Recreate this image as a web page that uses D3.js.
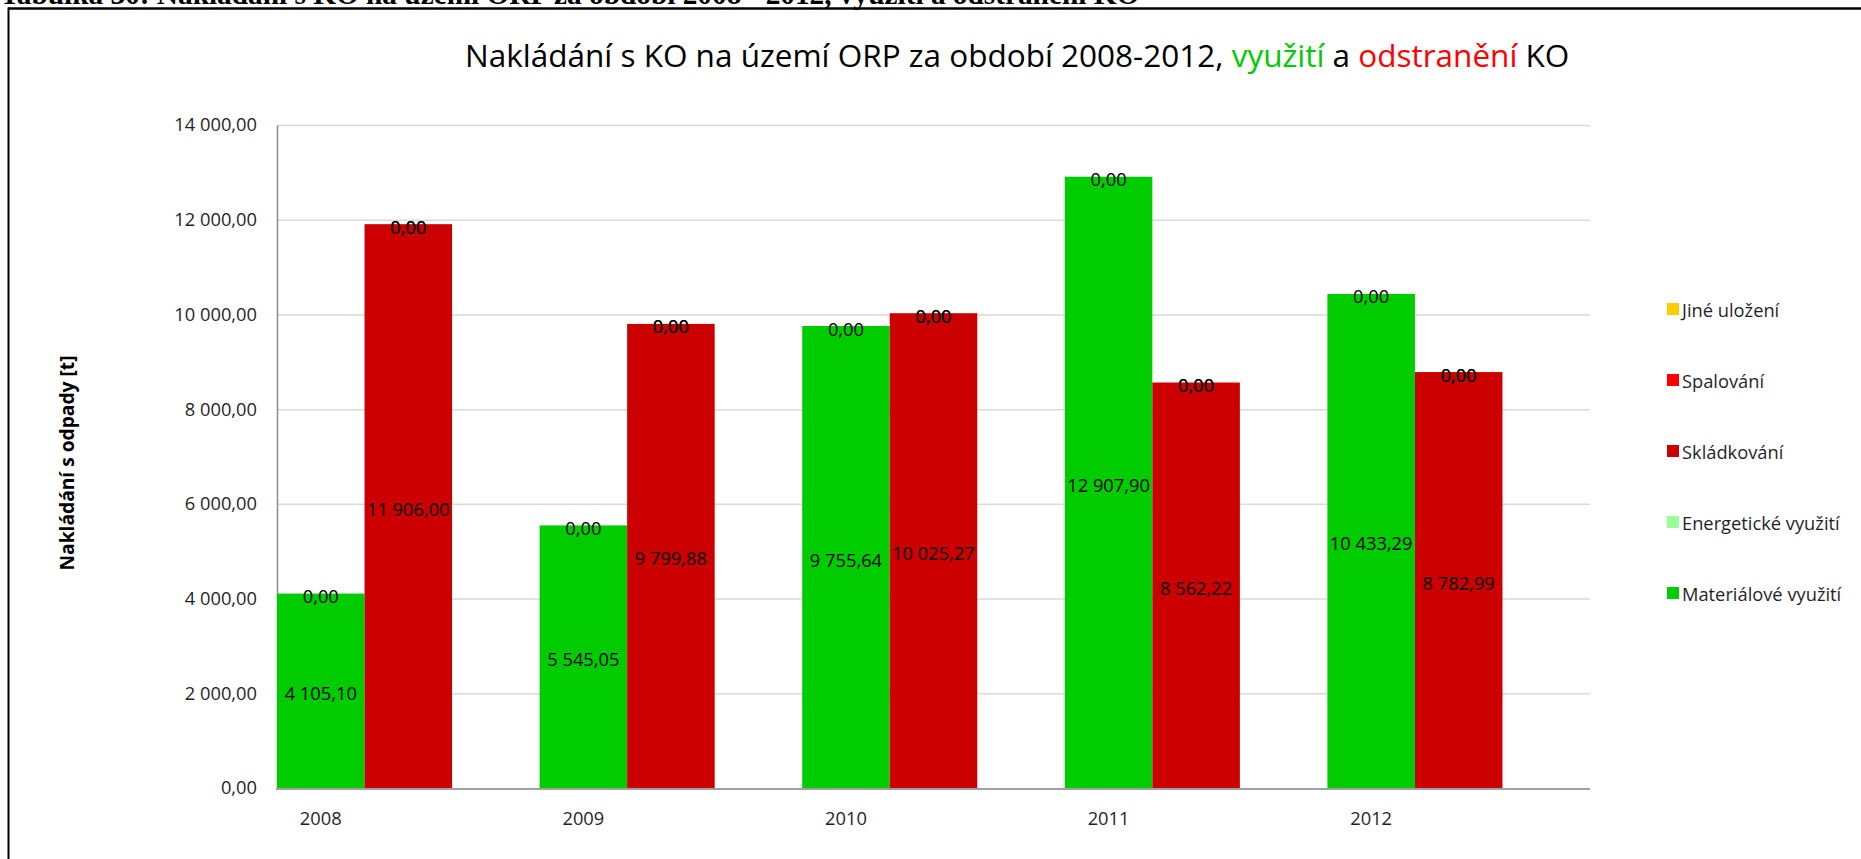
<!DOCTYPE html>
<html lang="cs">
<head>
<meta charset="utf-8">
<script src="https://cdn.jsdelivr.net/npm/d3@7"></script>
<style>
  html, body { margin: 0; padding: 0; background: #fff; }
  svg { display: block; font-family: "Open Sans", "Noto Sans", sans-serif; }
</style>
</head>
<body>
<svg id="chart" width="1861" height="859"></svg>
<script>
// Nakládání s komunálním odpadem (KO) v letech 2008–2012 [t]
const years = ["2008", "2009", "2010", "2011", "2012"];
const materialoveVyuziti = [4105.10, 5545.05, 9755.64, 12907.90, 10433.29];
const energetickeVyuziti = [0, 0, 0, 0, 0];
const skladkovani = [11906.00, 9799.88, 10025.27, 8562.22, 8782.99];
const spalovani = [0, 0, 0, 0, 0];
const jineUlozeni = [0, 0, 0, 0, 0];
const yTicks = [0, 2000, 4000, 6000, 8000, 10000, 12000, 14000];

// legend order (top to bottom) and colours
const legendNames = ["Jiné uložení", "Spalování", "Skládkování", "Energetické využití", "Materiálové využití"];
const legendColors = ["#FFCC00", "#FF0000", "#CC0000", "#99FF99", "#00CC00"];
const colorOf = d3.scaleOrdinal().domain(legendNames).range(legendColors);

const rows = years.map((year, i) => ({
  year,
  "Materiálové využití": materialoveVyuziti[i],
  "Energetické využití": energetickeVyuziti[i],
  "Skládkování": skladkovani[i],
  "Spalování": spalovani[i],
  "Jiné uložení": jineUlozeni[i]
}));

// two stacked columns per year: recovery (využití) and disposal (odstranění)
const columns = [
  { slot: "vyuziti", keys: ["Materiálové využití", "Energetické využití"] },
  { slot: "odstraneni", keys: ["Skládkování", "Spalování", "Jiné uložení"] }
];

const cz = d3.formatLocale({ decimal: ",", thousands: "\u00a0", grouping: [3], currency: ["", " Kč"] });
const fmt = cz.format(",.2f");

const svg = d3.select("#chart");
const plot = { left: 277, right: 1590, top: 125, bottom: 788 };
const FS = 18.3;

const x = d3.scaleBand().domain(years).range([plot.left, plot.right]).paddingInner(0).paddingOuter(0);
const slot = d3.scaleBand().domain(["vyuziti", "odstraneni", "mezera"]).range([0, x.bandwidth()]);
const y = d3.scaleLinear().domain([0, 14000]).range([plot.bottom, plot.top]);

function fitWidth(sel, target) {
  const s = parseFloat(sel.attr("font-size"));
  const len = sel.node().getComputedTextLength();
  sel.attr("font-size", s * target / len);
}

// caption above the frame (only its lower part fits on the page)
const caption = svg.append("text")
  .attr("x", 0).attr("y", 4)
  .style("font-family", "'Liberation Serif', 'DejaVu Serif', serif")
  .attr("font-weight", "bold")
  .attr("font-size", 22)
  .attr("fill", "#000")
  .text("Tabulka 30: Nakládání s KO na území ORP za období 2008 - 2012, využití a odstranění KO");
fitWidth(caption, 1140);

// frame
svg.append("line").attr("x1", 8).attr("x2", 1861).attr("y1", 8.5).attr("y2", 8.5)
  .attr("stroke", "#000").attr("stroke-width", 2.5);
svg.append("line").attr("x1", 8.5).attr("x2", 8.5).attr("y1", 7.5).attr("y2", 859)
  .attr("stroke", "#000").attr("stroke-width", 2);

// title
const title = svg.append("text")
  .attr("x", 465).attr("y", 67)
  .attr("font-size", 28)
  .attr("font-weight", 500)
  .attr("fill", "#000");
title.append("tspan").text("Nakládání s KO na území ORP za období 2008-2012, ");
title.append("tspan").attr("fill", "#00CC00").text("využití");
title.append("tspan").text(" a ");
title.append("tspan").attr("fill", "#FF0000").text("odstranění");
title.append("tspan").text(" KO");
fitWidth(title, 1105);

// gridlines
svg.append("g")
  .selectAll("line")
  .data(yTicks.filter(d => d > 0))
  .join("line")
  .attr("x1", plot.left).attr("x2", plot.right)
  .attr("y1", d => y(d) + 0.5).attr("y2", d => y(d) + 0.5)
  .attr("stroke", "#d9d9d9").attr("stroke-width", 1.5);

// y axis
const yAxis = svg.append("g")
  .attr("transform", `translate(${plot.left},0)`)
  .call(d3.axisLeft(y).tickValues(yTicks).tickFormat(fmt).tickSize(0).tickPadding(20));
yAxis.select(".domain").attr("stroke", "#8c8c8c").attr("stroke-width", 1.5);
yAxis.selectAll("text")
  .attr("font-family", null)
  .attr("font-size", FS)
  .attr("fill", "#1f1f2a");

// axis title
const yTitle = svg.append("text")
  .attr("transform", "translate(66,463) rotate(-90)")
  .attr("text-anchor", "middle")
  .attr("dominant-baseline", "central")
  .attr("font-size", FS)
  .attr("font-weight", "bold")
  .attr("fill", "#000")
  .text("Nakládání s odpady [t]");
fitWidth(yTitle, 215);

// bars
const barGroups = svg.append("g");
columns.forEach(col => {
  const stacked = d3.stack().keys(col.keys)(rows);
  stacked.forEach(layer => {
    barGroups.append("g")
      .selectAll("rect")
      .data(layer)
      .join("rect")
      .attr("x", d => x(d.data.year) + slot(col.slot))
      .attr("width", slot.bandwidth())
      .attr("y", d => y(d[1]))
      .attr("height", d => y(d[0]) - y(d[1]))
      .attr("fill", colorOf(layer.key));
  });
  // value labels in the middle of each segment
  stacked.forEach(layer => {
    barGroups.append("g")
      .selectAll("text")
      .data(layer)
      .join("text")
      .attr("x", d => x(d.data.year) + slot(col.slot) + slot.bandwidth() / 2)
      .attr("y", d => y((d[0] + d[1]) / 2) + 2)
      .attr("text-anchor", "middle")
      .attr("dominant-baseline", "central")
      .attr("font-size", FS)
      .attr("fill", "#000")
      .text(d => fmt(d.data[layer.key]));
  });
});

// x axis
const xAxis = svg.append("g")
  .attr("transform", `translate(0,${plot.bottom})`)
  .call(d3.axisBottom(x).tickSize(0).tickPadding(0));
xAxis.select(".domain").remove();
xAxis.selectAll(".tick")
  .attr("transform", d => `translate(${x(d) + slot("vyuziti") + slot.bandwidth() / 2},0)`);
xAxis.selectAll("text")
  .attr("y", 29)
  .attr("dy", null)
  .attr("dominant-baseline", "central")
  .attr("font-size", FS)
  .attr("fill", "#1f1f2a");
xAxis.attr("font-family", null);
yAxis.attr("font-family", null);
svg.append("line")
  .attr("x1", plot.left - 1).attr("x2", plot.right)
  .attr("y1", plot.bottom + 1).attr("y2", plot.bottom + 1)
  .attr("stroke", "#a0a0a0").attr("stroke-width", 2);

// legend
const legend = svg.append("g");
const legendY = d3.scalePoint().domain(legendNames).range([309, 593]);
const items = legend.selectAll("g").data(legendNames).join("g")
  .attr("transform", d => `translate(1667,${legendY(d)})`);
items.append("rect")
  .attr("x", 0).attr("y", -6).attr("width", 12).attr("height", 12)
  .attr("fill", d => colorOf(d));
items.append("text")
  .attr("x", 15).attr("y", 0)
  .attr("dominant-baseline", "central")
  .attr("font-size", FS)
  .attr("fill", "#1f1f2a")
  .text(d => d);
</script>
</body>
</html>
